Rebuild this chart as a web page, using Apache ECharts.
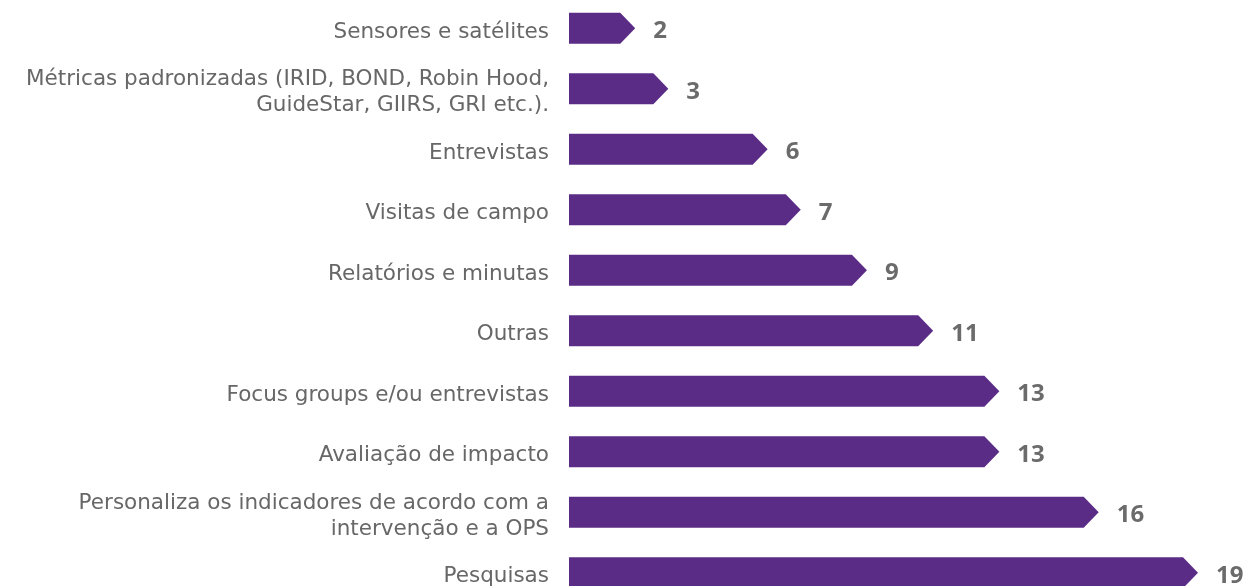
<!DOCTYPE html>
<html lang="pt">

<head>
    <meta charset="UTF-8">
    <title>Ferramentas de medição</title>
    <script src="https://cdn.jsdelivr.net/npm/echarts@6/dist/echarts.min.js"></script>
    <style>
        html, body { margin: 0; padding: 0; background: #fff; }
    </style>
</head>

<body>
    <div id="chart" style="width: 1251px; height: 586px;"></div>
    <script>
        // categorias de cima para baixo
        var categorias = [
            'Sensores e satélites',
            'Métricas padronizadas (IRID, BOND, Robin Hood,\nGuideStar, GIIRS, GRI etc.).',
            'Entrevistas',
            'Visitas de campo',
            'Relatórios e minutas',
            'Outras',
            'Focus groups e/ou entrevistas',
            'Avaliação de impacto',
            'Personaliza os indicadores de acordo com a\nintervenção e a OPS',
            'Pesquisas'
        ]
        var valores = [2, 3, 6, 7, 9, 11, 13, 13, 16, 19]

        var mCharts = echarts.init(document.getElementById('chart'))

        // barra em forma de seta + rótulos
        function renderSeta(params, api) {
            var idx = api.value(0)
            var v = api.value(1)
            var inicio = api.coord([0, idx])
            var fim = api.coord([v, idx])
            var h = 31
            var ponta = 15
            var x0 = inicio[0], x1 = fim[0], y = inicio[1]
            return {
                type: 'group',
                children: [{
                    type: 'polygon',
                    shape: {
                        points: [
                            [x0, y - h / 2],
                            [x1 - ponta, y - h / 2],
                            [x1, y],
                            [x1 - ponta, y + h / 2],
                            [x0, y + h / 2]
                        ]
                    },
                    style: { fill: '#5b2c86' }
                }, {
                    type: 'text',
                    x: x1 + 18,
                    y: y + 3,
                    style: {
                        text: String(v),
                        fill: '#6b6b6b',
                        font: 'bold 24px "Open Sans"',
                        textVerticalAlign: 'middle'
                    }
                }, {
                    // nome da categoria, um pouco abaixo do centro da barra
                    type: 'text',
                    x: x0 - 20,
                    y: y + 4,
                    style: {
                        text: categorias[idx],
                        fill: '#676767',
                        font: '21.5px "DejaVu Sans"',
                        lineHeight: 26,
                        align: 'right',
                        verticalAlign: 'middle'
                    }
                }]
            }
        }

        var option = {
            animation: false,
            grid: {
                left: 569,
                right: 53,
                top: -2,
                bottom: -17,
                outerBoundsMode: 'none'
            },
            xAxis: {
                type: 'value',
                min: 0,
                max: 19,
                show: false
            },
            yAxis: {
                type: 'category',
                inverse: true,
                data: categorias,
                axisLine: { show: false },
                axisTick: { show: false },
                axisLabel: { show: false }
            },
            series: [{
                type: 'custom',
                renderItem: renderSeta,
                encode: { x: 1, y: 0 },
                data: valores.map(function(v, i) { return [i, v] })
            }]
        }
        mCharts.setOption(option)
    </script>
</body>

</html>
